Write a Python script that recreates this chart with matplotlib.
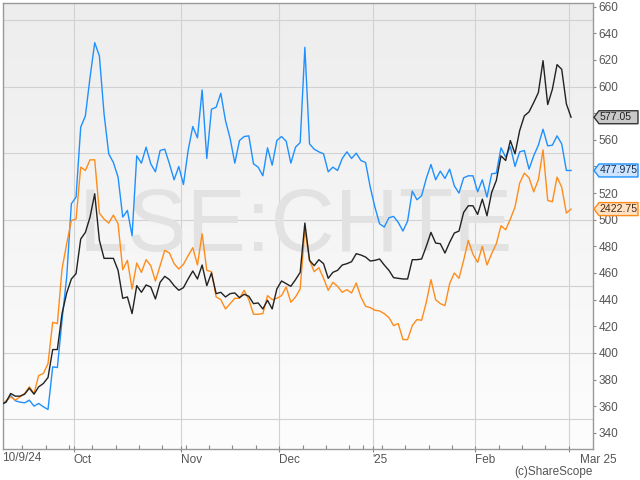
import numpy as np
import pandas as pd
import matplotlib
matplotlib.use('Agg')
from matplotlib import pyplot as plt
from matplotlib.colors import LinearSegmentedColormap
from matplotlib.patches import Polygon
from matplotlib.transforms import IdentityTransform, ScaledTranslation
from matplotlib.ticker import FixedLocator, MultipleLocator

plt.rcParams['font.family'] = ['Liberation Sans', 'DejaVu Sans']

# ---------------------------------------------------------------------------------------------------
# data - trading days (UK) and closing levels
# ---------------------------------------------------------------------------------------------------
holidays = ['2024-12-25', '2024-12-26', '2025-01-01']
days = pd.bdate_range('2024-09-09', '2025-03-03', freq='C', holidays=holidays)

blue = [361, 363, 368, 364, 363, 362.5, 364.5, 360, 362, 359.5,
        357.5, 389.5, 389, 424.5, 457, 512, 517, 569.5, 578, 607,
        633, 623, 579.5, 549.5, 543, 532, 502, 507, 488, 548,
        542.5, 554.5, 542, 536, 552, 553, 542, 530, 540, 526.5,
        552, 570, 561.5, 597.5, 546, 583, 584.5, 595, 574.5, 561,
        542.5, 559.5, 562.5, 563, 542, 539.5, 533, 554, 541, 559.5,
        562.5, 559, 542.5, 554.5, 558, 629.5, 557, 553, 551, 549.5,
        536, 539.5, 537, 546, 551, 546, 550, 544.5, 543, 524.5,
        509.5, 497, 494.5, 501.5, 502.5, 498, 491.5, 499, 521.5, 515,
        518, 531, 541.5, 530, 536.5, 531, 538, 525.5, 520, 531.5,
        533, 533, 521, 530, 517, 534.5, 535, 554, 547, 555,
        540, 551, 552, 538, 548, 556, 568, 555.5, 556, 563,
        557, 537, 537]

orange = [361, 364, 367, 364.5, 367, 369.5, 374.5, 369.5, 383, 384.5,
          392, 423, 422, 463, 482, 499.5, 500.5, 539.5, 537, 545,
          545, 505, 500.5, 497.5, 503.5, 497, 462.5, 469.5, 448, 467.5,
          460.5, 470, 465.5, 454, 465.5, 477, 475, 467, 463, 466.5,
          473, 479, 466, 489.5, 462, 461, 442, 440, 433, 437,
          441, 441, 447, 440, 429, 429, 429.5, 443, 440, 441,
          443, 449.5, 438, 442, 448, 493, 469.5, 461, 464, 456,
          447, 453, 450, 445.5, 447.5, 445, 452.5, 442, 435, 434,
          432, 431.5, 429.5, 426.5, 420.5, 422, 410, 410, 420.5, 425,
          424.5, 438, 455, 440, 437, 435.5, 452, 460, 456, 469.5,
          484.5, 474, 468, 480, 466, 474.5, 482, 495.5, 492.5, 500.5,
          509.5, 527.5, 535, 531.5, 521, 530, 552.5, 514.5, 513.5, 532,
          524.5, 505, 508]

black = [361.5, 363, 369.5, 367.5, 367.5, 369, 373.5, 369, 374.5, 377,
         381.5, 402.5, 402.5, 429.5, 445, 455.5, 459.5, 485.5, 490.5, 502,
         519.5, 484.5, 471, 471, 471, 462, 441, 442, 429.5, 450.5,
         445.5, 451, 449.5, 440.5, 453, 457.5, 455, 450.5, 447, 449,
         455.5, 461.5, 455.5, 466, 450.5, 460, 444.5, 445.5, 442, 444.5,
         445, 441.5, 444, 442.5, 437, 437.5, 433, 439.5, 433, 448,
         454, 452, 450, 455, 460.5, 497.5, 469.5, 465.5, 470, 467,
         456, 460.5, 462, 466, 467, 468.5, 474.5, 473.5, 472, 469,
         469.5, 470.5, 466, 462, 456.5, 456, 455.5, 455.5, 470, 470,
         470.5, 480, 490.5, 482.5, 482, 475, 483, 490, 491.5, 505.5,
         510.5, 510.5, 504, 515.5, 503, 520.5, 529.5, 548, 544.5, 559.5,
         549.5, 567, 578, 581, 588, 595.5, 619.5, 586.5, 598, 616.5,
         613, 587, 577]

series_colors = ['#1e90ff', '#ff8c1a', '#222222']
last_prices = ['577.05', '477.975', '2422.75']          # black, blue, orange
month_names = ['Oct', 'Nov', 'Dec', "'25", 'Feb', 'Mar 25']

x = np.arange(len(days))

# month and week boundaries sit half a day before the first trading day
month_pos = [i - 0.5 for i in range(1, len(days)) if days[i].month != days[i - 1].month]
week_no = days.isocalendar().week.values
week_pos = [i - 0.5 for i in range(1, len(days)) if week_no[i] != week_no[i - 1]]

# ---------------------------------------------------------------------------------------------------
# figure
# ---------------------------------------------------------------------------------------------------
fig = plt.figure(figsize=(6.4, 4.8), dpi=100)
fig.patch.set_facecolor('white')
ax = fig.add_axes([3 / 640, 31 / 480, 590 / 640, 446 / 480])

xlim = (0.36, 126.7)
ylim = (327.8, 662.8)

# soft grey-to-white background
grad = LinearSegmentedColormap.from_list('bg', ['#fdfdfd', '#ededed'])
ax.imshow(np.linspace(0, 1, 256).reshape(-1, 1), cmap=grad, origin='lower', aspect='auto',
          extent=[xlim[0], xlim[1], ylim[0], ylim[1]], zorder=0)

# watermark
ax.text(79 / 640, (480 - 251) / 480, 'LSE:CHTE', transform=fig.transFigure, fontsize=64,
        color='#e2e2e2', ha='left', va='baseline', zorder=1, clip_on=False)

for vals, col in zip([blue, orange, black], series_colors):
    ax.plot(x, vals, color=col, lw=1.0, zorder=3)

ax.set_xlim(*xlim)
ax.set_ylim(*ylim)

# y axis on the right: labels every 20, grid every 50
ax.yaxis.tick_right()
ax.yaxis.set_major_locator(MultipleLocator(20))
ax.yaxis.set_minor_locator(MultipleLocator(50))
ax.yaxis.remove_overlapping_locs = False
ax.tick_params(axis='y', which='major', direction='out', length=2.5, width=0.8,
               color='#888888', labelcolor='#555555', labelsize=8.5, pad=1.5)
ax.tick_params(axis='y', which='minor', length=0)
ax.grid(True, axis='y', which='minor', color='#d2d2d2', lw=0.8, zorder=0.5)

# x axis: month boundaries with grid, weekly minor ticks
ax.xaxis.set_major_locator(FixedLocator(month_pos))
ax.set_xticklabels(month_names, ha='left')
ax.xaxis.set_minor_locator(FixedLocator(week_pos))
ax.tick_params(axis='x', which='major', direction='inout', length=5, width=0.8,
               color='#888888', labelcolor='#555555', labelsize=8.5, pad=1)
ax.tick_params(axis='x', which='minor', direction='in', length=3, width=0.8, color='#888888')
ax.grid(True, axis='x', which='major', color='#d2d2d2', lw=0.8, zorder=0.5)
ax.set_axisbelow(True)

lbls = ax.get_xticklabels()
lbls[-1].set_transform(lbls[-1].get_transform() + ScaledTranslation(11 / 100, 0, fig.dpi_scale_trans))

for sp in ax.spines.values():
    sp.set_color('#999999')
    sp.set_linewidth(1.0)

fig.text(2 / 640, (480 - 458) / 480, days[1].strftime('%-d/%-m/%y'), fontsize=8.5,
         color='#555555', ha='left', va='center')
fig.text(593 / 640, (480 - 472) / 480, '(c)ShareScope', fontsize=8.5, color='#555555',
         ha='right', va='center')

# price flags on the right axis (they cover the tick labels right behind them)
flags = [(black[-1], last_prices[0], '#c9c9c9', '#333333', '#222222'),
         (blue[-1], last_prices[1], '#cfe5ff', '#1e90ff', '#14304f'),
         (orange[-1], last_prices[2], '#ffe2c4', '#ff8c1a', '#4a2a10')]
fig.canvas.draw()
flag_px = [ax.transData.transform((xlim[0], f[0]))[1] for f in flags]
for t, tv in zip(ax.yaxis.get_major_ticks(), ax.yaxis.get_majorticklocs()):
    ty = ax.transData.transform((xlim[0], tv))[1]
    if any(abs(ty - fy) < 8 for fy in flag_px):
        t.label2.set_visible(False)

for (val, txt, fc, ec, tc), yp in zip(flags, flag_px):
    h = 6.5
    pts = [(594, yp), (599, yp + h), (638, yp + h), (638, yp - h), (599, yp - h)]
    fig.add_artist(Polygon(pts, closed=True, fc=fc, ec=ec, lw=1.0, transform=IdentityTransform()))
    fig.text(600, yp, txt, transform=IdentityTransform(), fontsize=7.6, color=tc,
             ha='left', va='center')

fig.savefig('out.png', dpi=100)
